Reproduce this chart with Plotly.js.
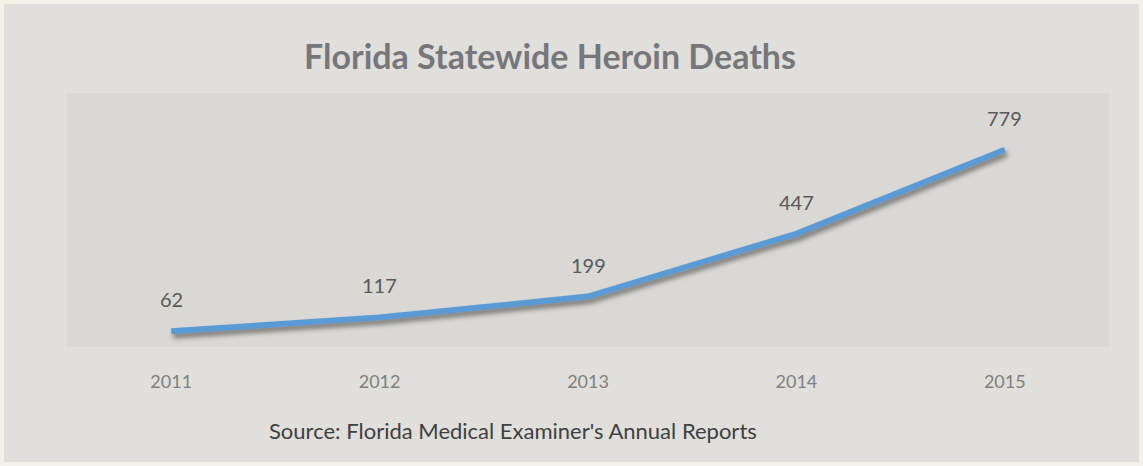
<!DOCTYPE html>
<html>
<head>
<meta charset="utf-8">
<script src="https://cdn.plot.ly/plotly-3.0.1.min.js"></script>
<style>
  html, body { margin: 0; padding: 0; background: #f4f2e8; }
  #chart { position: absolute; left: 4px; top: 4px; width: 1135px; height: 458px; }
  .scatterlayer .trace path.js-line { filter: drop-shadow(2px 4px 2.5px rgba(0,0,0,0.45)); }
</style>
</head>
<body>
<div id="chart"></div>
<script>
const years = ['2011', '2012', '2013', '2014', '2015'];
const deaths = [62, 117, 199, 447, 779];
const chartTitle = 'Florida Statewide Heroin Deaths';
const sourceNote = "Source: Florida Medical Examiner's Annual Reports";

const FONT = 'Lato, sans-serif';

const trace = {
  x: years,
  y: deaths,
  type: 'scatter',
  mode: 'lines',
  line: { color: '#5b9bd5', width: 6 },
  hoverinfo: 'x+y'
};

const annotations = deaths.map((v, i) => ({
  x: i, y: v, xref: 'x', yref: 'y',
  text: String(v), showarrow: false,
  yshift: 32,
  font: { family: FONT, size: 20, color: '#595959' }
}));

annotations.push({
  x: 0.428, y: -0.327, xref: 'paper', yref: 'paper',
  xanchor: 'center', yanchor: 'middle',
  text: sourceNote, showarrow: false,
  font: { family: FONT, size: 22, color: '#404040' }
});

const layout = {
  width: 1135, height: 458,
  paper_bgcolor: '#e0dfdb',
  plot_bgcolor: '#d9d8d4',
  margin: { l: 63, r: 30, t: 89, b: 115 },
  showlegend: false,
  title: {
    text: '<b>' + chartTitle + '</b>',
    font: { family: FONT, size: 34, color: '#77777b' },
    x: 546 / 1135, xanchor: 'center',
    y: 1 - 53 / 458, yanchor: 'middle', yref: 'container'
  },
  xaxis: {
    type: 'category',
    range: [-0.5, 4.5],
    showgrid: false, zeroline: false, showline: false,
    ticks: '',
    tickfont: { family: FONT, size: 18, color: '#808080' },
    ticklabelstandoff: 22
  },
  yaxis: {
    range: [0, 1003],
    showgrid: false, zeroline: false, showline: false,
    showticklabels: false, ticks: ''
  },
  annotations: annotations
};

Plotly.newPlot('chart', [trace], layout, { displayModeBar: false, staticPlot: true });
</script>
</body>
</html>
